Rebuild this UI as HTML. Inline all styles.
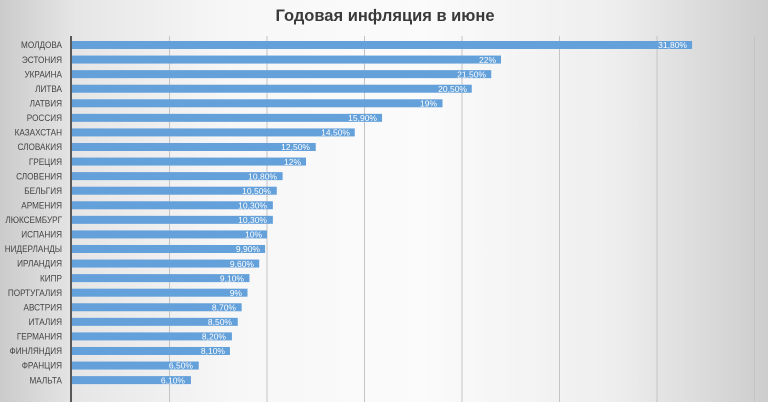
<!DOCTYPE html>
<html><head><meta charset="utf-8"><style>
html,body{margin:0;padding:0;width:768px;height:402px;overflow:hidden;}
svg{display:block;}
</style></head><body>
<svg width="768" height="402" viewBox="0 0 768 402" xmlns="http://www.w3.org/2000/svg">
<defs>
<linearGradient id="bg" x1="0" y1="0" x2="768" y2="0" gradientUnits="userSpaceOnUse">
<stop offset="0" stop-color="#cbcbcb"/>
<stop offset="0.1" stop-color="#e6e6e6"/>
<stop offset="0.3" stop-color="#f7f7f7"/>
<stop offset="0.55" stop-color="#fbfbfb"/>
<stop offset="0.8" stop-color="#eeeeee"/>
<stop offset="1" stop-color="#cdcdcd"/>
</linearGradient>
</defs>
<rect x="0" y="0" width="768" height="402" fill="url(#bg)"/>
<text x="385" y="21" text-anchor="middle" font-family="'Liberation Sans',sans-serif" font-weight="bold" font-size="16.5" fill="#3a3a3a">Годовая инфляция в июне</text>
<g stroke="#c4c4c4" stroke-width="1">
<line x1="169.5" y1="36" x2="169.5" y2="402"/>
<line x1="267" y1="36" x2="267" y2="402"/>
<line x1="364.5" y1="36" x2="364.5" y2="402"/>
<line x1="462" y1="36" x2="462" y2="402"/>
<line x1="559.5" y1="36" x2="559.5" y2="402"/>
<line x1="657" y1="36" x2="657" y2="402"/>
<line x1="754.5" y1="36" x2="754.5" y2="402"/>
</g>
<g id="bars" fill="#64a0da">
<rect x="72" y="41" width="620.1" height="8"/>
<rect x="72" y="55.57" width="429" height="8"/>
<rect x="72" y="70.14" width="419.25" height="8"/>
<rect x="72" y="84.71" width="399.75" height="8"/>
<rect x="72" y="99.28" width="370.5" height="8"/>
<rect x="72" y="113.85" width="310.05" height="8"/>
<rect x="72" y="128.42" width="282.75" height="8"/>
<rect x="72" y="142.99" width="243.75" height="8"/>
<rect x="72" y="157.56" width="234" height="8"/>
<rect x="72" y="172.13" width="210.6" height="8"/>
<rect x="72" y="186.7" width="204.75" height="8"/>
<rect x="72" y="201.27" width="200.85" height="8"/>
<rect x="72" y="215.84" width="200.85" height="8"/>
<rect x="72" y="230.41" width="195" height="8"/>
<rect x="72" y="244.98" width="193.05" height="8"/>
<rect x="72" y="259.55" width="187.2" height="8"/>
<rect x="72" y="274.12" width="177.45" height="8"/>
<rect x="72" y="288.69" width="175.5" height="8"/>
<rect x="72" y="303.26" width="169.65" height="8"/>
<rect x="72" y="317.83" width="165.75" height="8"/>
<rect x="72" y="332.4" width="159.9" height="8"/>
<rect x="72" y="346.97" width="157.95" height="8"/>
<rect x="72" y="361.54" width="126.75" height="8"/>
<rect x="72" y="376.11" width="118.95" height="8"/>
</g>
<line x1="71" y1="36" x2="71" y2="402" stroke="#2a2a2a" stroke-width="1.5"/>
<g transform="translate(62,0) scale(0.89,1)" font-family="'Liberation Sans',sans-serif" font-size="9.2" fill="#444" text-anchor="end">
<text x="0" y="48.2">МОЛДОВА</text>
<text x="0" y="62.77">ЭСТОНИЯ</text>
<text x="0" y="77.34">УКРАИНА</text>
<text x="0" y="91.91">ЛИТВА</text>
<text x="0" y="106.48">ЛАТВИЯ</text>
<text x="0" y="121.05">РОССИЯ</text>
<text x="0" y="135.62">КАЗАХСТАН</text>
<text x="0" y="150.19">СЛОВАКИЯ</text>
<text x="0" y="164.76">ГРЕЦИЯ</text>
<text x="0" y="179.33">СЛОВЕНИЯ</text>
<text x="0" y="193.9">БЕЛЬГИЯ</text>
<text x="0" y="208.47">АРМЕНИЯ</text>
<text x="0" y="223.04">ЛЮКСЕМБУРГ</text>
<text x="0" y="237.61">ИСПАНИЯ</text>
<text x="0" y="252.18">НИДЕРЛАНДЫ</text>
<text x="0" y="266.75">ИРЛАНДИЯ</text>
<text x="0" y="281.32">КИПР</text>
<text x="0" y="295.89">ПОРТУГАЛИЯ</text>
<text x="0" y="310.46">АВСТРИЯ</text>
<text x="0" y="325.03">ИТАЛИЯ</text>
<text x="0" y="339.6">ГЕРМАНИЯ</text>
<text x="0" y="354.17">ФИНЛЯНДИЯ</text>
<text x="0" y="368.74">ФРАНЦИЯ</text>
<text x="0" y="383.31">МАЛЬТА</text>
</g>
<g font-family="'Liberation Sans',sans-serif" font-size="8.5" fill="#ffffff" text-anchor="end">
<text x="687" y="48.2">31,80%</text>
<text x="496" y="62.77">22%</text>
<text x="486" y="77.34">21,50%</text>
<text x="467" y="91.91">20,50%</text>
<text x="437" y="106.48">19%</text>
<text x="377" y="121.05">15,90%</text>
<text x="350" y="135.62">14,50%</text>
<text x="310" y="150.19">12,50%</text>
<text x="301" y="164.76">12%</text>
<text x="277" y="179.33">10,80%</text>
<text x="271" y="193.9">10,50%</text>
<text x="267" y="208.47">10,30%</text>
<text x="267" y="223.04">10,30%</text>
<text x="262" y="237.61">10%</text>
<text x="260" y="252.18">9,90%</text>
<text x="254" y="266.75">9,60%</text>
<text x="244" y="281.32">9,10%</text>
<text x="242" y="295.89">9%</text>
<text x="236" y="310.46">8,70%</text>
<text x="232" y="325.03">8,50%</text>
<text x="226" y="339.6">8,20%</text>
<text x="225" y="354.17">8,10%</text>
<text x="193" y="368.74">6,50%</text>
<text x="185" y="383.31">6,10%</text>
</g>
</svg>
</body></html>
